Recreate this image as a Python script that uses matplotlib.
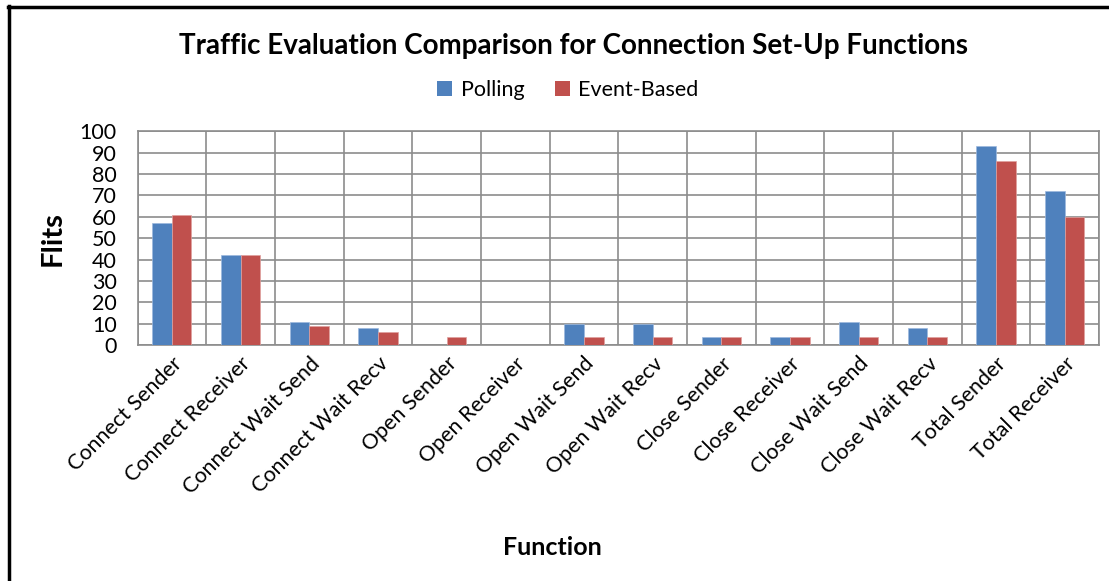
import numpy as np
import matplotlib
matplotlib.use("Agg")
import matplotlib.pyplot as plt
from matplotlib.lines import Line2D
from matplotlib.patches import Patch

functions = [
    "Connect Sender", "Connect Receiver", "Connect Wait Send", "Connect Wait Recv",
    "Open Sender", "Open Receiver", "Open Wait Send", "Open Wait Recv",
    "Close Sender", "Close Receiver", "Close Wait Send", "Close Wait Recv",
    "Total Sender", "Total Receiver",
]
polling = [57, 42, 11, 8, 0, 0, 10, 10, 4, 4, 11, 8, 93, 72]
event_based = [61, 42, 9, 6, 4, 0, 4, 4, 4, 4, 4, 4, 86, 60]
y_ticks = list(range(0, 101, 10))

BLUE = "#4F81BD"
RED = "#C0504D"
GRID = "#8C8C8C"

plt.rcParams["font.family"] = ["Lato", "DejaVu Sans"]

fig = plt.figure(figsize=(11.09, 5.81), dpi=100)
ax = fig.add_axes([0.124, 0.406, 0.867, 0.368])

x = np.arange(len(functions))
w = 0.2857
ax.bar(x - w / 2, polling, width=w, color=BLUE, edgecolor="#9DB9DE", linewidth=0.5, zorder=3)
ax.bar(x + w / 2, event_based, width=w, color=RED, edgecolor="#E0A09E", linewidth=0.5, zorder=3)

ax.set_xlim(-0.5, len(functions) - 0.5)
ax.set_ylim(0, 100)
ax.set_yticks(y_ticks)
ax.tick_params(axis="y", length=0, labelsize=15.5, pad=15)
for yv in y_ticks:
    ax.axhline(yv, color=GRID, linewidth=1.2, zorder=1)
for xb in np.arange(-0.5, len(functions) + 0.5, 1):
    ax.axvline(xb, color=GRID, linewidth=1.2, zorder=1)
for s in ax.spines.values():
    s.set_color(GRID)
    s.set_linewidth(1.2)

ax.set_xticks(x)
ax.set_xticklabels(functions, rotation=45, ha="right", va="top", rotation_mode="anchor", fontsize=15.5)
ax.tick_params(axis="x", length=0, pad=6)

ax.set_ylabel("Flits", fontsize=21, fontweight="bold", labelpad=10)
fig.text(0.498, 0.058, "Function", ha="center", va="center", fontsize=18, fontweight="bold")

fig.text(0.517, 0.921, "Traffic Evaluation Comparison for Connection Set-Up Functions",
         ha="center", va="center", fontsize=20, fontweight="bold")

handles = [Patch(facecolor=BLUE, label="Polling"), Patch(facecolor=RED, label="Event-Based")]
fig.legend(handles=handles, loc="center", bbox_to_anchor=(0.512, 0.845), ncol=2, frameon=False,
           fontsize=15.5, handlelength=0.7, handleheight=0.7, handletextpad=0.4, columnspacing=1.4)

# chart frame (left and top edges visible)
fig.add_artist(Line2D([0.0078, 0.0078], [0, 0.99], transform=fig.transFigure, color="black", linewidth=2.5))
fig.add_artist(Line2D([0.0068, 1.0], [0.9885, 0.9885], transform=fig.transFigure, color="black", linewidth=2.5))

fig.savefig("out.png", dpi=100)
